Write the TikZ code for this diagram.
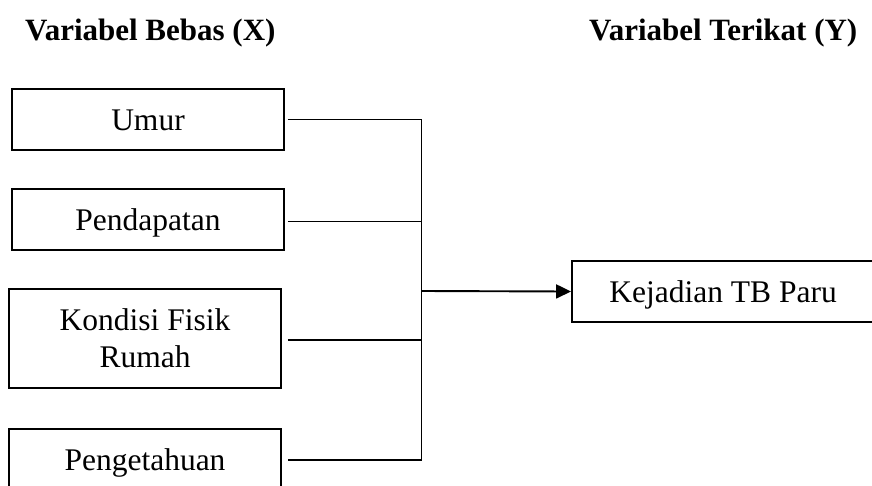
\documentclass[tikz,border=0pt]{standalone}
\usepackage{fontspec}
\setmainfont{Liberation Serif}
\usetikzlibrary{arrows.meta}
\begin{document}
\begin{tikzpicture}[x=1pt,y=-1pt,
  varbox/.style={draw,line width=1.9pt,rectangle,inner sep=0pt,minimum width=272pt,minimum height=61pt,align=center,font=\fontsize{31.5}{37}\selectfont},
  oneline/.style={text height=21pt,text depth=0pt},
  hdr/.style={anchor=base west,inner sep=0pt,font=\fontsize{31}{36}\selectfont\bfseries},
  conn/.style={line width=1.9pt}]
\useasboundingbox (0,0) rectangle (872,485);
\clip (0,0) rectangle (872,485);
\fill[white] (0,0) rectangle (872,485);
\node[hdr] (hx) at (25,40.5) {Variabel Bebas (X)};
\node[hdr] (hy) at (589,40.5) {Variabel Terikat (Y)};
\node[varbox,oneline] (umur) at (148,119.5) {Umur};
\node[varbox,oneline] (pend) at (148,219.5) {Pendapatan};
\node[varbox,minimum height=99pt] (kond) at (145,338.5) {Kondisi Fisik\\Rumah};
\node[varbox,oneline,minimum height=62pt] (peng) at (145,460) {Pengetahuan};
\node[varbox,oneline,minimum width=302pt] (kej) at (723,291.5) {Kejadian TB Paru};
\coordinate (bus) at (421.5,291);
\draw[conn] ([xshift=3pt]umur.east) -- (umur.east -| bus) -- (peng.east -| bus) -- ([xshift=6pt]peng.east);
\draw[conn] ([xshift=3pt,yshift=-2pt]pend.east) -- ([yshift=-2pt]pend.east -| bus);
\draw[conn] ([xshift=6pt,yshift=-1.5pt]kond.east) -- ([yshift=-1.5pt]kond.east -| bus);
\draw[conn,-{Triangle[length=15pt,width=14pt]}] (bus) -- (kej.west);
\end{tikzpicture}
\end{document}
